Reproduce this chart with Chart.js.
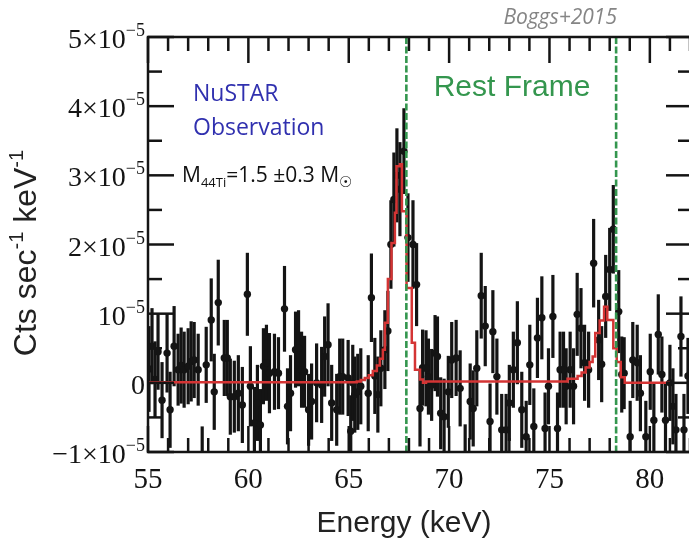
<!DOCTYPE html>
<html>
<head>
<meta charset="utf-8">
<title>NuSTAR 44Ti spectrum</title>
<script src="https://cdn.jsdelivr.net/npm/chart.js@4.4.1/dist/chart.umd.min.js"></script>
<style>
  body { margin: 0; background: #fff; overflow: hidden; }
  #wrap { width: 689px; height: 543px; overflow: hidden; position: relative; }
  canvas { display: block; }
</style>
</head>
<body>
<div id="wrap"><canvas id="spectrum" width="700" height="543"></canvas></div>
<script>
// rates are in units of 1e-5 counts / s / keV
const energy = [
  55.05, 55.2, 55.35, 55.5, 55.7, 55.95, 56.1, 56.3, 56.5, 56.65,
  56.8, 57.0, 57.15, 57.3, 57.5, 57.7, 57.9, 58.15, 58.3, 58.5,
  58.8, 58.95, 59.1, 59.3, 59.5, 59.7, 59.95, 60.1, 60.3, 60.45,
  60.6, 60.75, 60.9, 61.05, 61.3, 61.5, 61.8, 61.95, 62.1, 62.35,
  62.5, 62.65, 62.8, 63.0, 63.15, 63.4, 63.65, 63.8, 63.97, 64.15,
  64.4, 64.55, 64.7, 64.97, 65.1, 65.2, 65.3, 65.45, 65.6, 65.97,
  66.13, 66.3, 66.45, 66.6, 66.8, 66.95, 67.1, 67.25, 67.4, 67.55,
  67.75, 67.95, 68.2, 68.38, 68.55, 68.68, 68.85, 68.97, 69.13, 69.3,
  69.42, 69.58, 69.75, 69.96, 70.13, 70.35, 70.55, 70.8, 71.05, 71.2,
  71.38, 71.6, 71.8, 72.04, 72.18, 72.38, 72.62, 72.84, 73.0, 73.2,
  73.4, 73.62, 73.84, 74.02, 74.22, 74.4, 74.62, 74.78, 74.95, 75.17,
  75.4, 75.53, 75.7, 75.83, 76.03, 76.2, 76.38, 76.57, 76.75, 76.95,
  77.2, 77.45, 77.6, 77.8, 78.0, 78.18, 78.45, 78.6, 78.72, 79.02,
  79.15, 79.37, 79.53, 79.8, 80.02, 80.2, 80.42, 80.6, 80.78, 81.0,
  81.15, 81.3, 81.55, 81.7, 81.9
];
const rate = [
  0.20, 0.53, 0.05, 0.45, -0.25, 0.43, -0.39, 0.53, 0.19, 0.25,
  0.19, 0.24, 0.31, 0.33, 0.19, -1.05, 0.26, 0.91, -0.13, 1.16,
  0.36, 0.36, -0.20, -0.20, -0.15, -0.32, 1.28, -0.05, -0.58, -0.29,
  -0.61, 0.24, 0.29, 0.14, 0.16, 0.14, 1.07, -0.34, -0.15, 0.48,
  0.50, 0.19, 0.16, -0.39, -0.27, 0.00, -0.03, 0.38, 0.55, -0.29,
  -0.39, 0.09, 0.09, 0.07, -0.70, 0.00, -0.17, -0.13, -0.05, -0.15,
  1.23, 0.10, -0.17, 0.21, 0.48, 0.75, 2.00, 2.65, 3.00, 2.80,
  3.35, 2.10, 2.00, 1.42, -0.37, 0.22, 0.21, 0.09, -0.03, 0.43,
  0.38, -0.44, -0.49, -0.13, 0.33, 0.36, -0.08, -1.05, -0.27, -0.37,
  0.21, 1.26, 0.82, -0.56, 0.74, 0.09, -0.68, -0.68, -0.29, 0.19,
  0.58, -0.39, -0.78, 0.26, -0.63, 0.65, 0.94, -0.66, -0.05, 0.96,
  -0.66, 0.19, 0.19, -0.05, 0.19, -0.05, 0.99, 0.79, 0.29, 0.19,
  1.73, 0.62, 0.27, 1.25, 1.64, 2.22, 1.03, 0.12, 0.14, -0.78,
  0.33, 0.29, -0.15, -0.78, 0.16, -0.54, 0.70, 0.12, -0.54, 0.00,
  -0.34, -0.68, 0.67, -0.68, 0.10
];
const rateErr = [
  0.62, 0.55, 0.55, 0.55, 0.55, 0.57, 0.55, 0.58, 0.52, 0.55,
  0.55, 0.55, 0.58, 0.55, 0.52, 0.42, 0.55, 0.60, 0.55, 0.62,
  0.55, 0.55, 0.55, 0.52, 0.55, 0.55, 0.60, 0.58, 0.52, 0.55,
  0.52, 0.55, 0.55, 0.58, 0.55, 0.52, 0.62, 0.55, 0.55, 0.55,
  0.55, 0.55, 0.52, 0.52, 0.55, 0.57, 0.55, 0.58, 0.60, 0.55,
  0.52, 0.55, 0.55, 0.55, 0.52, 0.55, 0.55, 0.55, 0.55, 0.55,
  0.64, 0.55, 0.55, 0.55, 0.57, 0.58, 0.64, 0.68, 0.68, 0.68,
  0.62, 0.64, 0.64, 0.60, 0.55, 0.55, 0.55, 0.55, 0.52, 0.55,
  0.58, 0.52, 0.55, 0.52, 0.55, 0.55, 0.55, 0.45, 0.55, 0.55,
  0.55, 0.62, 0.58, 0.55, 0.60, 0.55, 0.52, 0.52, 0.55, 0.55,
  0.60, 0.55, 0.52, 0.58, 0.55, 0.58, 0.60, 0.52, 0.55, 0.60,
  0.52, 0.55, 0.55, 0.55, 0.55, 0.55, 0.60, 0.58, 0.55, 0.55,
  0.64, 0.58, 0.55, 0.60, 0.60, 0.64, 0.60, 0.55, 0.52, 0.52,
  0.55, 0.55, 0.55, 0.52, 0.55, 0.55, 0.58, 0.55, 0.55, 0.55,
  0.55, 0.52, 0.58, 0.52, 0.55
];

// best-fit line model, stepped histogram (value holds until the next edge)
const modelEnergy = [
  55.0, 65.4, 65.6, 65.8, 66.0, 66.2, 66.4, 66.55, 66.7, 66.8,
  66.95, 67.13, 67.3, 67.38, 67.55, 67.65, 67.88, 68.14, 68.3, 68.55,
  68.7, 68.85, 75.9, 76.4, 76.6, 76.8, 77.0, 77.15, 77.28, 77.5,
  77.72, 77.88, 78.18, 78.35, 78.55, 78.75, 78.95, 81.0
];
const modelRate = [
  0.0, 0.01, 0.02, 0.04, 0.07, 0.11, 0.17, 0.25, 0.35, 0.48,
  0.87, 1.5, 2.02, 2.46, 3.13, 3.16, 2.48, 1.37, 0.58, 0.19,
  0.05, 0.0, 0.02, 0.06, 0.1, 0.15, 0.22, 0.3, 0.38, 0.72,
  0.9, 1.1, 0.91, 0.5, 0.3, 0.08, 0.0, 0.0
];

// 44Ti decay lines in the rest frame (keV)
const restLines = [67.87, 78.32];

const xMajor = [55, 60, 65, 70, 75, 80];
const xMinor = [56, 57, 58, 59, 61, 62, 63, 64, 66, 67, 68, 69, 71, 72, 73, 74, 76, 77, 78, 79, 81, 82];
const yMajor = [-1, 0, 1, 2, 3, 4, 5];
const yMinor = [-0.5, 0.5, 1.5, 2.5, 3.5, 4.5];
// y tick labels: mantissa part and exponent part
const yLabelMain = ['\u22121\u00d710', '0', '10', '2\u00d710', '3\u00d710', '4\u00d710', '5\u00d710'];
const yLabelExp = ['\u22125', '', '\u22125', '\u22125', '\u22125', '\u22125', '\u22125'];

const INK = '#141414';
const GREEN = 'rgb(52,150,78)';

// write a run of pieces [text, size, raise] starting at x, on baseline y
function drawRuns(ctx, runs, family, x, y, align, style) {
  const pre = style ? style + ' ' : '';
  let total = 0;
  runs.forEach(r => { ctx.font = pre + r[1] + 'px ' + family; total += ctx.measureText(r[0]).width; });
  let cx = align === 'right' ? x - total : align === 'center' ? x - total / 2 : x;
  ctx.textAlign = 'left';
  ctx.textBaseline = 'alphabetic';
  runs.forEach(r => {
    ctx.font = pre + r[1] + 'px ' + family;
    ctx.fillText(r[0], cx, y - r[2]);
    cx += ctx.measureText(r[0]).width;
  });
}

const errorBars = {
  id: 'errorBars',
  beforeDatasetsDraw(chart) {
    const { ctx, chartArea: a, scales: { x, y } } = chart;
    ctx.save();
    ctx.beginPath();
    ctx.rect(a.left, a.top, a.right - a.left, a.bottom - a.top);
    ctx.clip();
    ctx.strokeStyle = INK;
    ctx.lineWidth = 3.2;
    energy.forEach((e, i) => {
      const px = x.getPixelForValue(e);
      ctx.beginPath();
      ctx.moveTo(px, y.getPixelForValue(rate[i] - rateErr[i]));
      ctx.lineTo(px, y.getPixelForValue(rate[i] + rateErr[i]));
      ctx.stroke();
    });
    ctx.restore();
  }
};

const restFrame = {
  id: 'restFrame',
  afterDatasetsDraw(chart) {
    const { ctx, chartArea: a, scales: { x } } = chart;
    ctx.save();
    ctx.strokeStyle = GREEN;
    ctx.lineWidth = 2.6;
    ctx.setLineDash([7, 2.5]);
    restLines.forEach(e => {
      const px = x.getPixelForValue(e);
      ctx.beginPath();
      ctx.moveTo(px, a.top);
      ctx.lineTo(px, a.bottom);
      ctx.stroke();
    });
    ctx.restore();
  }
};

const frameAndText = {
  id: 'frameAndText',
  afterDraw(chart) {
    const { ctx, chartArea: a, scales: { x, y } } = chart;
    ctx.save();
    ctx.strokeStyle = INK;
    ctx.lineWidth = 2.5;
    const seg = (x1, y1, x2, y2) => { ctx.beginPath(); ctx.moveTo(x1, y1); ctx.lineTo(x2, y2); ctx.stroke(); };

    // inward ticks on all four sides
    xMajor.concat(xMinor).forEach(e => {
      const px = x.getPixelForValue(e);
      const len = xMajor.includes(e) ? 26 : 14;
      seg(px, a.bottom, px, a.bottom - len);
      seg(px, a.top, px, a.top + len);
    });
    yMajor.concat(yMinor).forEach(v => {
      const py = y.getPixelForValue(v);
      const len = yMajor.includes(v) ? 26 : 14;
      seg(a.left, py, a.left + len, py);
      seg(a.right, py, a.right - len, py);
    });
    ctx.strokeRect(a.left, a.top, a.right - a.left, a.bottom - a.top);

    // y tick labels with superscript exponents
    ctx.fillStyle = INK;
    yMajor.forEach((v, i) => {
      const py = y.getPixelForValue(v);
      const runs = [[yLabelMain[i], 28, 0]];
      if (yLabelExp[i]) runs.push([yLabelExp[i], 18, 12]);
      drawRuns(ctx, runs, '"Liberation Serif", serif', 145, py + 11, 'right');
    });

    // axis titles
    ctx.fillStyle = '#222';
    drawRuns(ctx, [['Energy (keV)', 30, 0]], '"Liberation Sans", Arial, sans-serif', 404, 532, 'center');
    ctx.save();
    ctx.translate(36, 253);
    ctx.rotate(-Math.PI / 2);
    drawRuns(ctx, [['Cts sec', 32, 0], ['-1', 20, 13], [' keV', 32, 0], ['-1', 20, 13]],
      '"Liberation Sans", Arial, sans-serif', 0, 0, 'center');
    ctx.restore();

    // annotations
    ctx.fillStyle = '#858585';
    drawRuns(ctx, [['Boggs+2015', 21, 0]], '"Open Sans", sans-serif', 617, 24, 'right', 'italic');
    ctx.fillStyle = 'rgb(48,48,175)';
    drawRuns(ctx, [['NuSTAR', 23, 0]], '"Open Sans", sans-serif', 193, 101, 'left');
    drawRuns(ctx, [['Observation', 23, 0]], '"Open Sans", sans-serif', 193, 135, 'left');
    ctx.fillStyle = '#111';
    drawRuns(ctx, [['M', 21, 0], ['44Ti', 13, -5], ['=1.5 \u00b10.3 M', 21, 0], ['\u2609', 15, -5]],
      '"Open Sans", "DejaVu Sans", sans-serif', 182, 182, 'left');
    ctx.fillStyle = GREEN;
    drawRuns(ctx, [['Rest Frame', 30, 0]], '"Liberation Sans", Arial, sans-serif', 512, 96, 'center');
    ctx.restore();
  }
};

new Chart(document.getElementById('spectrum'), {
  type: 'scatter',
  data: {
    datasets: [
      {
        type: 'line',
        label: 'model',
        data: modelEnergy.map((e, i) => ({ x: e, y: modelRate[i] })),
        stepped: 'after',
        borderColor: 'rgb(212,52,52)',
        borderWidth: 2.5,
        pointRadius: 0,
        fill: false,
        order: 0
      },
      {
        label: 'NuSTAR',
        data: energy.map((e, i) => ({ x: e, y: rate[i] })),
        backgroundColor: INK,
        borderColor: INK,
        pointRadius: 3.7,
        borderWidth: 0,
        order: 1
      }
    ]
  },
  options: {
    responsive: false,
    animation: false,
    devicePixelRatio: 1,
    layout: { padding: { top: 37, right: 8, left: 0, bottom: 0 } },
    plugins: { legend: { display: false }, tooltip: { enabled: false } },
    scales: {
      x: {
        type: 'linear',
        min: 55,
        max: 82.1,
        grid: { display: false, drawTicks: false },
        border: { display: false },
        ticks: {
          stepSize: 5,
          includeBounds: false,
          maxRotation: 0,
          autoSkip: false,
          padding: 11,
          color: INK,
          font: { family: '"Liberation Serif", serif', size: 29 }
        },
        afterFit: s => { s.height = 91; }
      },
      y: {
        type: 'linear',
        min: -1,
        max: 5,
        grid: { display: false, drawTicks: false },
        border: { display: false },
        ticks: { display: false },
        afterFit: s => { s.width = 148; }
      }
    }
  },
  plugins: [errorBars, restFrame, frameAndText]
});
</script>
</body>
</html>
